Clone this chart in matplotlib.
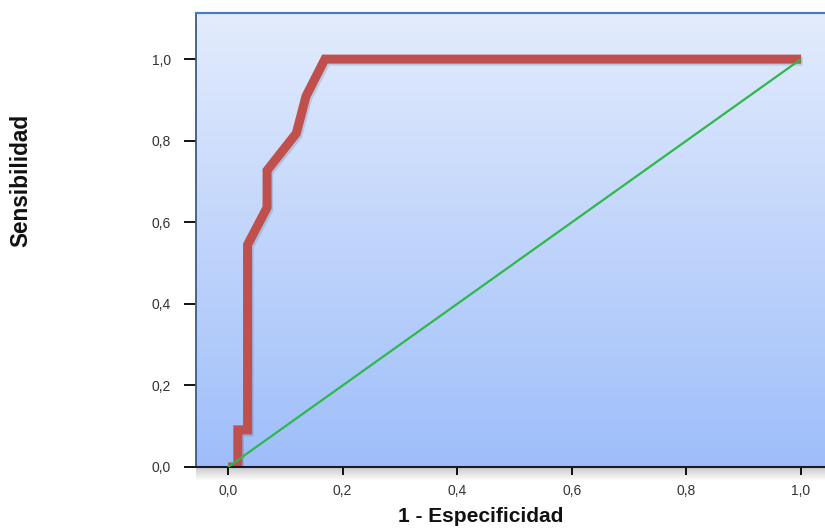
import numpy as np
import matplotlib
matplotlib.use("Agg")
import matplotlib.pyplot as plt
import matplotlib.patheffects as pe

plt.rcParams['font.family'] = ['Liberation Sans', 'DejaVu Sans']

# Curva ROC
fpr = [0.0, 0.017, 0.017, 0.034, 0.034, 0.068, 0.068, 0.119, 0.136, 0.169, 1.0]
tpr = [0.0, 0.0, 0.091, 0.091, 0.545, 0.636, 0.727, 0.818, 0.909, 1.0, 1.0]
ref_x = [0.0, 1.0]
ref_y = [0.0, 1.0]

ticks = [0.0, 0.2, 0.4, 0.6, 0.8, 1.0]
tick_labels = ["0,0", "0,2", "0,4", "0,6", "0,8", "1,0"]

fig = plt.figure(figsize=(8.25, 5.29), dpi=100)

# sombra bajo el eje x
sh = fig.add_axes([196/825, (529-481)/529, 640/825, 14/529], zorder=0)
sh.axis("off")
alpha = np.linspace(0.35, 0.0, 64)[:, None]
shade = np.zeros((64, 1, 4))
shade[..., :3] = 0.35
shade[..., 3] = alpha
sh.imshow(shade, aspect="auto", extent=[0, 1, 0, 1], interpolation="bilinear")
sh.set_xlim(0, 1)
sh.set_ylim(0, 1)

ax = fig.add_axes([196/825, 62/529, 640/825, 454/529], zorder=1)
ax.patch.set_alpha(0)

xmin, xmax = -0.056, 1.061
ymin, ymax = 0.0, 1.113
ax.set_xlim(xmin, xmax)
ax.set_ylim(ymin, ymax)

# fondo degradado
top = np.array([0.890, 0.925, 0.992])
bot = np.array([0.620, 0.745, 0.980])
t = np.linspace(0, 1, 256)[:, None]
grad = top * (1 - t) + bot * t
grad = grad[:, None, :]
ax.imshow(grad, extent=[xmin, xmax, ymin, ymax], aspect="auto", zorder=0,
          origin="upper", interpolation="bilinear")

ax.plot(ref_x, ref_y, color="#2eb84b", lw=1.6, zorder=3, solid_capstyle="butt")
ax.plot(fpr, tpr, color="#c0504d", lw=6.5, zorder=2, solid_capstyle="butt",
        solid_joinstyle="miter",
        path_effects=[pe.SimpleLineShadow(offset=(1.2, -1.5), shadow_color="#445", alpha=0.18),
                      pe.Normal()])

ax.set_xticks(ticks)
ax.set_xticklabels(tick_labels)
ax.set_yticks(ticks)
ax.set_yticklabels(tick_labels)
ax.tick_params(axis="y", direction="out", length=8.5, width=1.3, pad=9.5,
               labelsize=10, colors="black", labelcolor="#333333")
ax.tick_params(axis="x", direction="out", length=5.5, width=1.3, pad=6.5,
               labelsize=10, colors="black", labelcolor="#333333")

ax.spines["top"].set_color("#4a7ebb")
ax.spines["top"].set_linewidth(1.6)
ax.spines["left"].set_color("#3d5a80")
ax.spines["left"].set_linewidth(1.3)
ax.spines["bottom"].set_color("#1a1a2a")
ax.spines["bottom"].set_linewidth(1.5)
ax.spines["right"].set_visible(False)

fig.text(481/825, 1 - 517/529, "1 - Especificidad", ha="center", va="center",
         fontsize=15, fontweight="bold", color="#111111")
fig.text(21/825, 1 - 180/529, "Sensibilidad", ha="center", va="center",
         rotation=90, fontsize=16.3, fontweight="bold", color="#111111")

fig.savefig("out.png", dpi=100)
